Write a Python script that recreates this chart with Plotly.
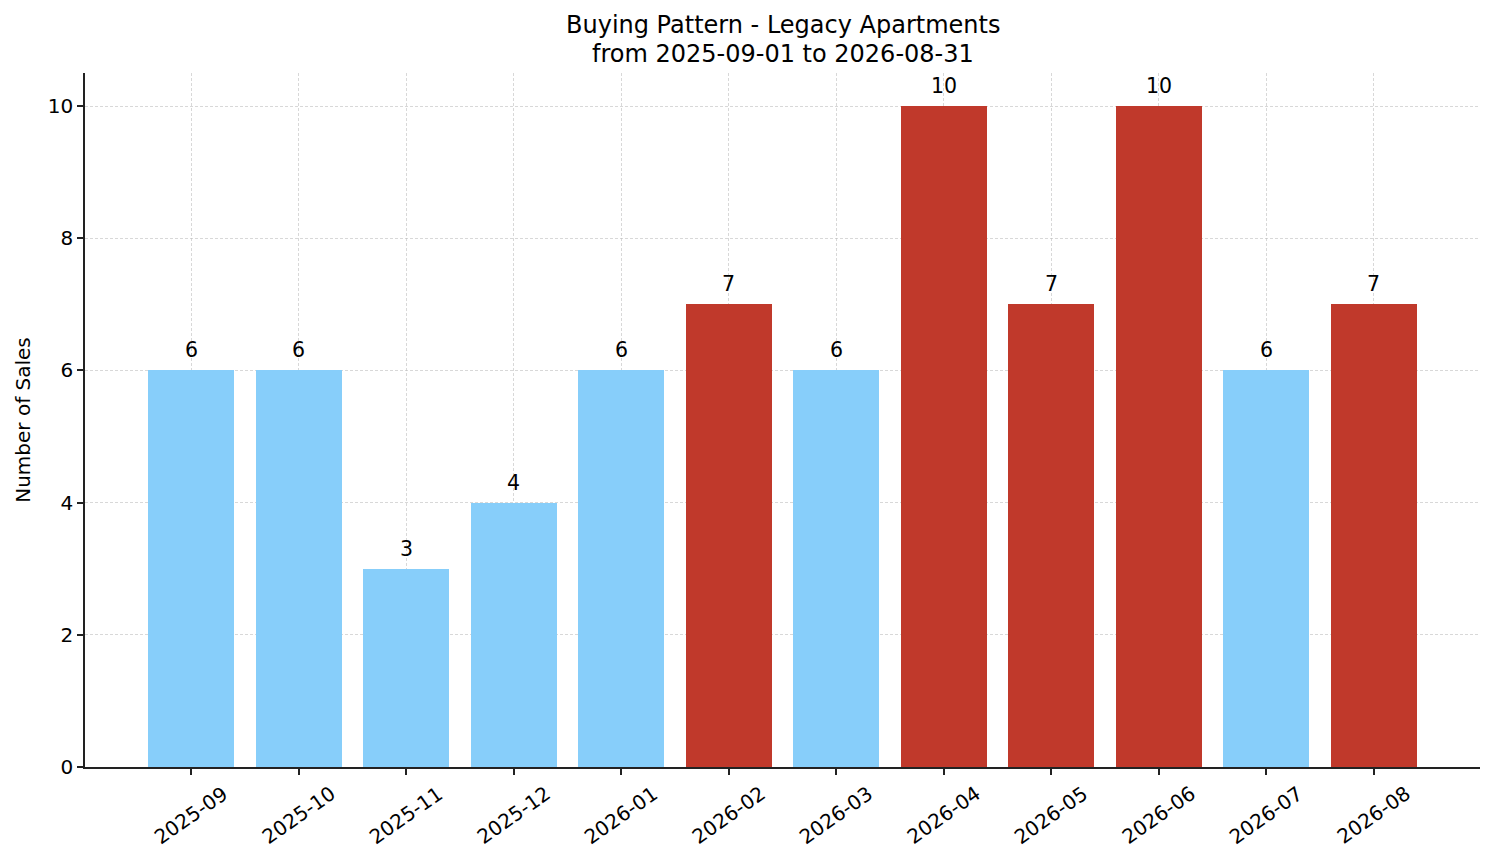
import plotly.graph_objects as go

# Monthly sales, Legacy Apartments
months = ['2025-09', '2025-10', '2025-11', '2025-12', '2026-01', '2026-02',
          '2026-03', '2026-04', '2026-05', '2026-06', '2026-07', '2026-08']
sales = [6, 6, 3, 4, 6, 7, 6, 10, 7, 10, 6, 7]
y_ticks = [0, 2, 4, 6, 8, 10]
title_lines = ['Buying Pattern - Legacy Apartments', 'from 2025-09-01 to 2026-08-31']

BLUE = '#87CEFA'
RED = '#C0392B'
FONT = 'DejaVu Sans'

# months above 6 sales shown in red
colors = [RED if s > 6 else BLUE for s in sales]
idx = list(range(len(months)))

fig = go.Figure()
fig.add_trace(go.Bar(x=idx, y=sales, width=0.8,
                     marker=dict(color=colors, line=dict(width=0)),
                     hoverinfo='skip'))

# value labels over the bars
for i, s in zip(idx, sales):
    fig.add_annotation(x=i, y=s, xref='x', yref='y', yanchor='bottom', yshift=6,
                       text=str(s), showarrow=False,
                       font=dict(family=FONT, size=20.5, color='black'))

# rotated, centred month labels (matplotlib style)
for i, m in zip(idx, months):
    fig.add_annotation(x=i, y=0, xref='x', yref='paper', yanchor='middle', yshift=-48,
                       text=m, textangle=-35, showarrow=False,
                       font=dict(family=FONT, size=20, color='black'))

# two-line title
for k, line in enumerate(title_lines):
    fig.add_annotation(x=0.5, y=1, xref='paper', yref='paper', yanchor='middle',
                       yshift=48 - 29 * k, text=line, showarrow=False,
                       font=dict(family=FONT, size=24, color='black'))

grid = dict(showgrid=True, gridcolor='rgba(190,190,190,0.6)', griddash='3px,2px', gridwidth=1)
axis = dict(ticks='outside', ticklen=6, tickcolor='#222', tickwidth=1.5,
            showline=True, linecolor='#222', linewidth=1.5,
            zeroline=False, automargin=False)

# page has an 8px body margin, so the figure is a little smaller than the window
fig.update_layout(
    width=1486, height=855,
    margin=dict(l=77, r=14, t=65, b=96),
    plot_bgcolor='white', paper_bgcolor='white',
    showlegend=False, bargap=0,
    font=dict(family=FONT, size=20, color='black'),
)
fig.update_xaxes(range=[-0.99, 11.99], tickvals=idx, showticklabels=False, **grid, **axis)
fig.update_yaxes(range=[0, 10.5], tickvals=y_ticks, **grid, **axis,
                 title=dict(text='Number of Sales', font=dict(family=FONT, size=20), standoff=12),
                 tickfont=dict(family=FONT, size=20))

fig.write_html('out.html')
